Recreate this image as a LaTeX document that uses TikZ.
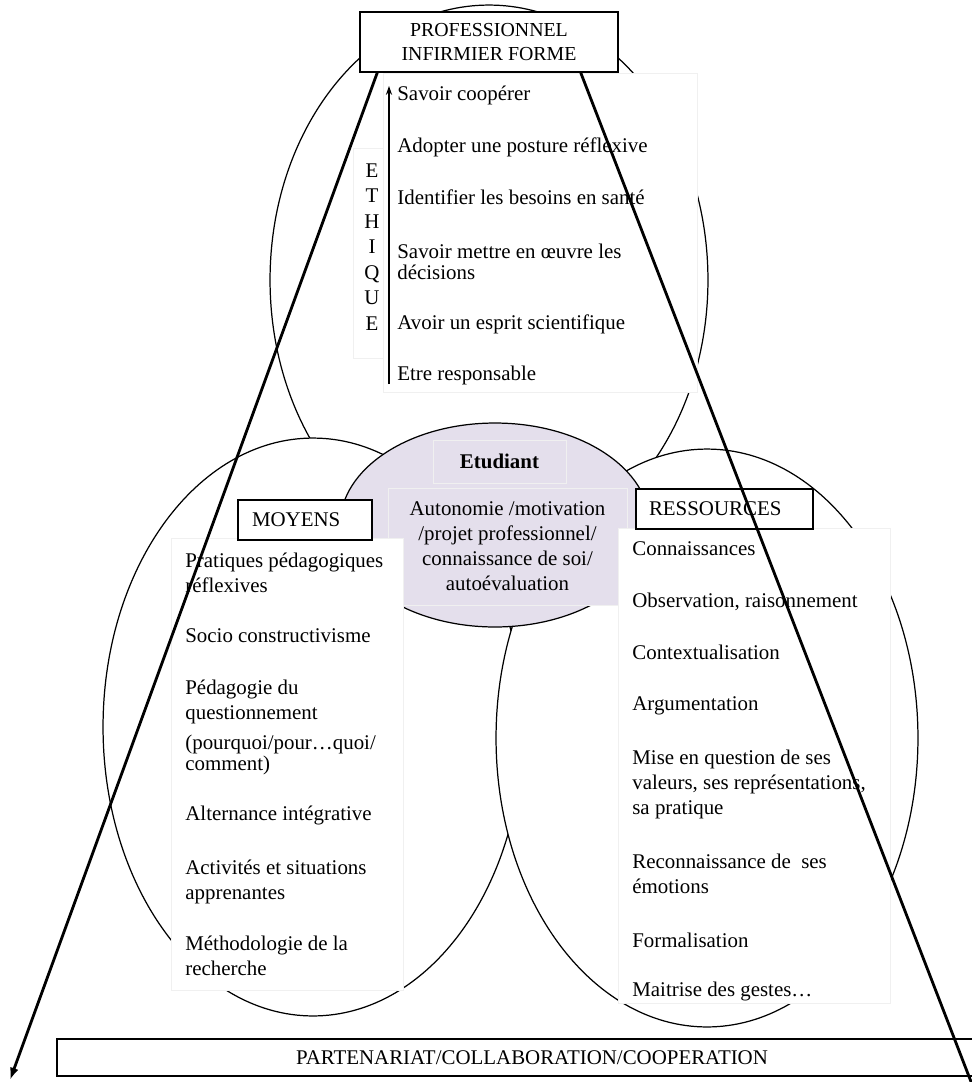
\documentclass[tikz,border=0pt]{standalone}
\usepackage{fontspec}
\setmainfont{Liberation Serif}
\usetikzlibrary{shapes.geometric, arrows.meta}
\definecolor{etudlav}{HTML}{E4DFEC}
\definecolor{paleline}{HTML}{F0F0F0}

\begin{document}
\begin{tikzpicture}[
  x=0.02cm, y=-0.02cm,
  font=\fontsize{11.9}{14.2}\selectfont,
  ring/.style={ellipse, draw=black, line width=0.7pt, fill=white, inner sep=0pt},
  softbox/.style={rectangle, draw=paleline, line width=0.5pt, fill=white, inner sep=0pt},
  tagbox/.style={rectangle, draw=black, line width=0.9pt, fill=white, minimum height=0.8cm, align=left},
  item/.style={anchor=base west, align=left, inner sep=0pt},
  axe/.style={line width=1.6pt, -{Latex[length=7pt, width=5pt]}}
]
  \useasboundingbox (0,0) rectangle (971,1082);

  % the three circles and the student
  \node[ring, minimum width=8.76cm, minimum height=11cm] (topring) at (489,280) {};
  \node[ring, minimum width=8.4cm, minimum height=11.56cm] (moyring) at (313,727) {};
  \node[ring, minimum width=8.44cm, minimum height=11.56cm] (resring) at (707,738) {};
  \node[ring, fill=etudlav, minimum width=6.2cm, minimum height=4.08cm] (etudring) at (495,525) {};

  \node[softbox, fill=etudlav, minimum width=2.66cm, minimum height=0.86cm] (etudtitle) at (499.5,461.5) {\textbf{Etudiant}};
  \node[softbox, fill=etudlav, minimum width=4.78cm, minimum height=2.34cm, align=center] (etudtext) at (507.5,546.5)
    {Autonomie /motivation\\/projet professionnel/\\connaissance de soi/\\autoévaluation};

  % white panels
  \node[softbox, minimum width=4.64cm, minimum height=9.04cm] (moylist) at (287,764) {};
  \node[softbox, minimum width=5.44cm, minimum height=9.5cm] (reslist) at (754,765.5) {};
  \node[softbox, minimum width=6.28cm, minimum height=6.38cm] (toplist) at (540,232.5) {};
  \node[softbox, minimum width=0.6cm, minimum height=4.2cm] (ethbox) at (368,253) {};

  % competences (y = baseline of the last line)
  \foreach \yy/\txt [count=\i] in {100/{Savoir coopérer}, 152/{Adopter une posture réflexive},
      204/{Identifier les besoins en santé}, 279/{Savoir mettre en œuvre les\\[-2.8pt]décisions},
      329/{Avoir un esprit scientifique}, 380/{Etre responsable}}
    \node[item] (comp\i) at (397,\yy) {\txt};
  \coordinate (arrfoot) at (389,384);
  \coordinate (arrhead) at (389,86);
  \draw[line width=0.9pt, -{Stealth[length=5pt, width=3.5pt]}] (arrfoot) -- (arrhead);

  \foreach \lt [count=\k] in {E,T,H,I,Q,U,E}
    \node[anchor=base, inner sep=0pt] (eth\k) at (372,{177+25.5*(\k-1)}) {\lt};

  % moyens
  \foreach \yy/\txt [count=\i] in {592/{Pratiques pédagogiques\\réflexives}, 642/{Socio constructivisme},
      719/{Pédagogie du\\questionnement}, 770/{(pourquoi/pour…quoi/\\[-2.8pt]comment)},
      820/{Alternance intégrative}, 899/{Activités et situations\\apprenantes},
      975/{Méthodologie de la\\recherche}}
    \node[item] (moy\i) at (185,\yy) {\txt};

  % ressources
  \foreach \yy/\txt [count=\i] in {555/{Connaissances}, 607/{Observation, raisonnement},
      659/{Contextualisation}, 710/{Argumentation},
      814/{Mise en question de ses\\valeurs, ses représentations,\\sa pratique},
      893/{Reconnaissance de\ \ ses\\émotions}, 947/{Formalisation}, 996/{Maitrise des gestes…}}
    \node[item] (res\i) at (632,\yy) {\txt};

  % labels
  \node[tagbox, text width=2.12cm, inner xsep=0.28cm] (moyens) at (305,520) {MOYENS};
  \node[tagbox, text width=3.02cm, inner xsep=0.26cm] (ressources) at (724.5,509) {RESSOURCES};
  \node[tagbox, align=center, minimum width=5.16cm, minimum height=1.2cm,
    font=\fontsize{11.3}{14.2}\selectfont] (topbox) at (489,42) {PROFESSIONNEL\\INFIRMIER FORME};
  \node[tagbox, align=center, minimum width=19cm, minimum height=0.74cm] (partbox) at (532,1057.5)
    {PARTENARIAT/COLLABORATION/COOPERATION};

  % the two legs
  \coordinate (leftend) at (10,1080);
  \coordinate (rightend) at (975,1092);
  \draw[axe] ([xshift=0.36cm]topbox.south west) -- (leftend);
  \draw[line width=1.6pt] ([xshift=-0.76cm]topbox.south east) -- (rightend);
\end{tikzpicture}
\end{document}
